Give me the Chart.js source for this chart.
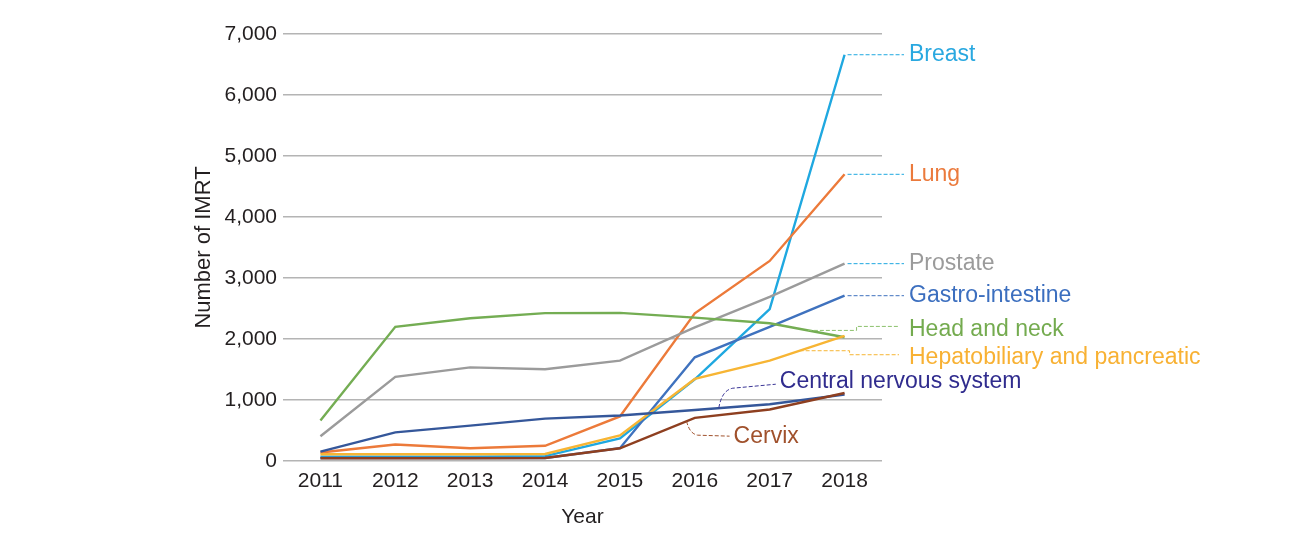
<!DOCTYPE html>
<html>
<head>
<meta charset="utf-8">
<title>Number of IMRT by year</title>
<script src="https://cdn.jsdelivr.net/npm/chart.js@4.4.1/dist/chart.umd.min.js"></script>
<style>
    html, body { margin: 0; padding: 0; background: #ffffff; }
    #chart { display: block; }
</style>
</head>
<body>
<canvas id="chart" width="1308" height="541"></canvas>
<script>
"use strict";

// Data
const years = ["2011", "2012", "2013", "2014", "2015", "2016", "2017", "2018"];
const seriesNames = ["Breast", "Lung", "Prostate", "Gastro-intestine", "Head and neck",
    "Hepatobiliary and pancreatic", "Central nervous system", "Cervix"];
const breast = [70, 70, 70, 80, 370, 1340, 2490, 6660];
const lung = [140, 270, 210, 250, 730, 2420, 3280, 4700];
const prostate = [405, 1380, 1535, 1505, 1645, 2190, 2690, 3235];
const gastro = [50, 50, 50, 50, 210, 1700, 2200, 2710];
const headNeck = [665, 2200, 2340, 2425, 2428, 2350, 2258, 2028];
const hepato = [110, 110, 110, 115, 420, 1345, 1645, 2052];
const cns = [155, 470, 580, 695, 745, 835, 930, 1090];
const cervix = [45, 45, 45, 50, 208, 708, 845, 1115];
const yTicks = [0, 1000, 2000, 3000, 4000, 5000, 6000, 7000];

const seriesData = [breast, lung, prostate, gastro, headNeck, hepato, cns, cervix];
const lineColors = ["#1fa8e0", "#ec7a3a", "#9b9b9b", "#3f72be", "#74ad53", "#f7b534", "#35579a", "#8e3f20"];
const textColors = ["#29a8e0", "#eb7a3c", "#9b9b9b", "#3c6fbf", "#74ab4f", "#f8b133", "#302c8e", "#a0512c"];
const leaderColors = ["#1fa8e0", "#1fa8e0", "#1fa8e0", "#3f72be", "#8cc16c", "#f7b534", "#3a3596", "#a0512c"];

// how each callout leaves its line: segment index, position on segment, shape
const callouts = [
    { seg: 7, t: 0, kind: "flat" },
    { seg: 7, t: 0, kind: "flat" },
    { seg: 7, t: 0, kind: "flat" },
    { seg: 7, t: 0, kind: "flat" },
    { seg: 6, t: 0.51, kind: "step", stepDx: 12, dy: -4, textDy: 3 },
    { seg: 6, t: 0.40, kind: "step", stepDx: 5, dy: 4, textDy: 3 },
    { seg: 5, t: 0.32, kind: "curve", bendX: 14, bendY: -20, endX: 57, endY: -24, textDy: -3 },
    { seg: 4, t: 0.89, kind: "curve", bendX: 11, bendY: 14, endX: 43, endY: 15, textDy: 0 }
];

const fmt = v => v >= 1000 ? Math.floor(v / 1000) + "," + String(v % 1000).padStart(3, "0") : String(v);

// Draws the names at the line ends with dashed leaders
const calloutPlugin = {
    id: "callouts",
    afterDatasetsDraw(chart) {
        const ctx = chart.ctx;
        const area = chart.chartArea;
        const textX = area.right + 27;
        ctx.save();
        ctx.font = "23px 'Liberation Sans', Arial, sans-serif";
        ctx.textBaseline = "middle";
        ctx.lineWidth = 1;
        ctx.setLineDash([4, 2]);
        seriesNames.forEach((name, i) => {
            const c = callouts[i];
            const pts = chart.getDatasetMeta(i).data;
            const a = pts[c.seg];
            const b = pts[Math.min(c.seg + 1, pts.length - 1)];
            const ax = a.x + (b.x - a.x) * c.t;
            const ay = a.y + (b.y - a.y) * c.t;
            let tx = textX, ty = ay;
            ctx.strokeStyle = leaderColors[i];
            ctx.beginPath();
            if (c.kind === "flat") {
                ctx.moveTo(ax + 3, ay);
                ctx.lineTo(textX - 5, ay);
            } else if (c.kind === "step") {
                const sx = pts[7].x + c.stepDx;
                ctx.moveTo(ax, ay);
                ctx.lineTo(sx, ay);
                ctx.lineTo(sx, ay + c.dy);
                ctx.lineTo(textX - 10, ay + c.dy);
                ty = ay + c.dy + c.textDy;
            } else {
                ctx.moveTo(ax, ay);
                ctx.quadraticCurveTo(ax + 3, ay + c.bendY * 0.9, ax + c.bendX, ay + c.bendY);
                ctx.lineTo(ax + c.endX, ay + c.endY);
                tx = ax + c.endX + 4;
                ty = ay + c.endY + c.textDy;
            }
            ctx.stroke();
            ctx.fillStyle = textColors[i];
            ctx.fillText(name, tx, ty);
        });
        ctx.restore();
    }
};

function init() {
    const ctx = document.getElementById("chart").getContext("2d");
    Chart.defaults.font.family = "'Liberation Sans', Arial, sans-serif";

    const datasets = seriesNames.map((name, i) => ({
        label: name,
        data: seriesData[i],
        borderColor: lineColors[i],
        backgroundColor: lineColors[i],
        borderWidth: 2.4,
        pointRadius: 0,
        tension: 0,
        fill: false,
        order: seriesNames.length - i
    }));

    new Chart(ctx, {
        type: "line",
        data: { labels: years, datasets: datasets },
        options: {
            responsive: false,
            animation: false,
            layout: { padding: { left: 180, top: 34, right: 426, bottom: 11 } },
            plugins: {
                legend: { display: false },
                tooltip: { enabled: false }
            },
            scales: {
                x: {
                    offset: true,
                    grid: { display: false, drawTicks: false },
                    border: { display: false },
                    ticks: { color: "#231f20", font: { size: 21 }, padding: 8 },
                    title: { display: true, text: "Year", color: "#231f20", font: { size: 21 }, padding: { top: 0, bottom: 0 } },
                    afterFit: scale => { scale.height = 69; }
                },
                y: {
                    min: 0,
                    max: 7000,
                    afterBuildTicks: scale => { scale.ticks = yTicks.map(v => ({ value: v })); },
                    grid: { color: "#b4b4b4", lineWidth: 1.5, drawTicks: false },
                    border: { display: false },
                    ticks: { color: "#231f20", font: { size: 21 }, padding: 6, callback: v => fmt(v) },
                    title: { display: true, text: "Number of IMRT", color: "#231f20", font: { size: 22 }, padding: { top: 11, bottom: 0 } },
                    afterFit: scale => { scale.width = 103; }
                }
            }
        },
        plugins: [calloutPlugin]
    });
}

window.onload = init;
</script>
</body>
</html>
